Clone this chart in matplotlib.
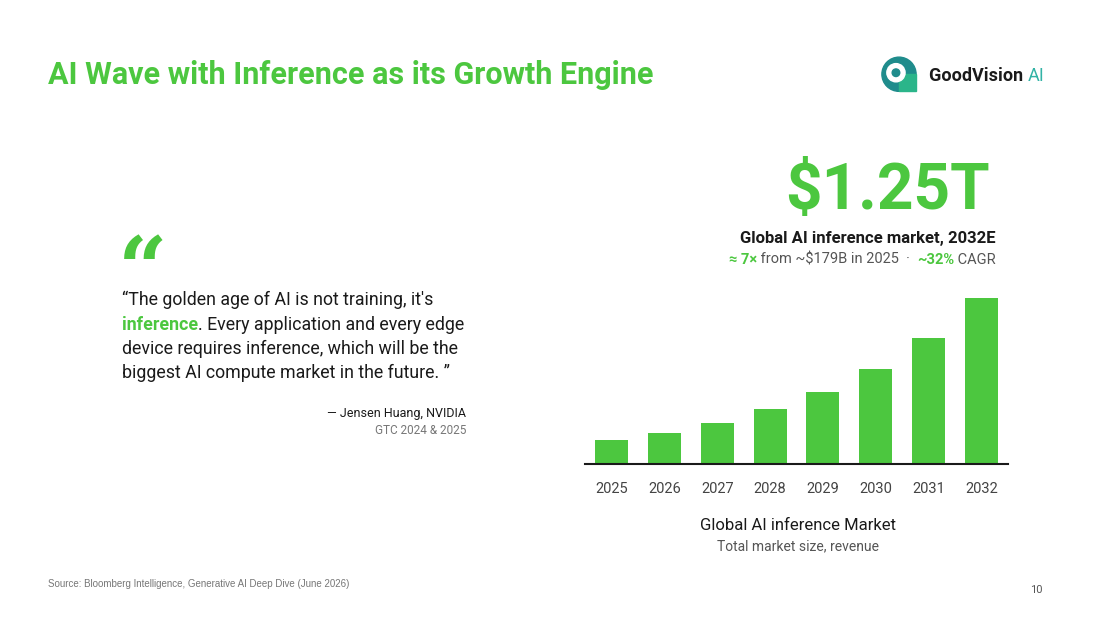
import matplotlib
matplotlib.use("Agg")
import matplotlib.pyplot as plt
from matplotlib.patches import Circle, Rectangle

# data
years = ["2025", "2026", "2027", "2028", "2029", "2030", "2031", "2032"]
market_bn = [179, 233, 308, 414, 541, 717, 947, 1250]

GREEN = "#4cc73f"
DARK = "#1a1a1a"
GRAY = "#555555"
LIGHT = "#777777"

plt.rcParams['font.family'] = ['Roboto', 'DejaVu Sans']

fig = plt.figure(figsize=(11, 6.19), dpi=100)
W, H = 1100, 619


def fx(px):
    return px / W


def fy(py):
    return 1 - py / H


def pieces(x, y, parts, ha='left', **kw):
    '''draw a line of text made of (string, color, weight) parts'''
    r = fig.canvas.get_renderer()
    objs = []
    total = 0
    for s, c, wgt in parts:
        t = fig.text(0, fy(y), s, color=c, fontweight=wgt, va='center', **kw)
        w = t.get_window_extent(renderer=r).width
        objs.append((t, w))
        total += w
    start = x - total if ha == 'right' else x
    for t, w in objs:
        t.set_x(fx(start))
        start += w


# title
fig.text(fx(48), fy(75), "AI Wave with Inference as its Growth Engine",
         fontsize=22, fontweight='bold', color=GREEN, va='center', ha='left')

# logo
lax = fig.add_axes([fx(880), fy(94), fx(38), 38 / H])
lax.set_xlim(0, 1)
lax.set_ylim(0, 1)
lax.set_aspect('equal')
lax.axis('off')
lax.add_patch(Circle((0.5, 0.52), 0.45, color="#1f8c8c"))
lax.add_patch(Rectangle((0.5, 0.07), 0.45, 0.45, color="#2bb58a"))
lax.add_patch(Circle((0.42, 0.56), 0.24, color="white"))
lax.add_patch(Circle((0.42, 0.56), 0.1, color="#1f8c8c"))
pieces(929, 76, [("GoodVision ", DARK, 'bold'), ("AI", "#33b3a6", 'normal')],
       fontsize=13)

# big number and subtitle
fig.text(fx(887), fy(191), "$1.25T", fontsize=46, fontweight='bold',
         color=GREEN, ha='center', va='center')
fig.text(fx(996), fy(239), "Global AI inference market, 2032E", fontsize=12,
         fontweight='bold', color=DARK, ha='right', va='center')
pieces(996, 260, [("≈ 7×", GREEN, 'bold'), (" from ~$179B in 2025  ·  ", GRAY, 'normal'),
                  ("~32%", GREEN, 'bold'), (" CAGR", GRAY, 'normal')],
       ha='right', fontsize=10.5)

# quote
fig.text(fx(118), fy(274), "\u201c", fontsize=62, fontweight='bold',
         color=GREEN, ha='left', va='center', family=['DejaVu Serif'])
qs = 12.8
pieces(122, 300, [("\u201cThe golden age of AI is not training, it's", DARK, 'normal')], fontsize=qs)
pieces(122, 325, [("inference", GREEN, 'bold'),
                  (". Every application and every edge", DARK, 'normal')], fontsize=qs)
pieces(122, 349, [("device requires inference, which will be the", DARK, 'normal')], fontsize=qs)
pieces(122, 373, [("biggest AI compute market in the future. \u201d", DARK, 'normal')], fontsize=qs)
fig.text(fx(466), fy(414), "\u2014 Jensen Huang, NVIDIA", fontsize=9, color=DARK,
         ha='right', va='center')
fig.text(fx(466), fy(430), "GTC 2024 & 2025", fontsize=8.5, color=LIGHT,
         ha='right', va='center')

# bar chart
ax = fig.add_axes([fx(585), fy(464), fx(1008 - 585), (464 - 297.7) / H])
ax.bar(range(len(years)), market_bn, width=0.625, color=GREEN)
ax.set_xlim(-0.5, len(years) - 0.5)
ax.set_ylim(0, max(market_bn))
ax.set_xticks(range(len(years)))
ax.set_xticklabels(years, fontsize=10.5, color="#444444")
ax.tick_params(axis='x', length=0, pad=13)
ax.set_yticks([])
for s in ['top', 'right', 'left']:
    ax.spines[s].set_visible(False)
ax.spines['bottom'].set_color(DARK)
ax.spines['bottom'].set_linewidth(1.5)
ax.patch.set_alpha(0)

fig.text(fx(798), fy(525), "Global AI inference Market", fontsize=12, color=DARK,
         ha='center', va='center')
fig.text(fx(798), fy(546), "Total market size, revenue", fontsize=10, color=GRAY,
         ha='center', va='center')

# footer
fig.text(fx(48), fy(584), "Source: Bloomberg Intelligence, Generative AI Deep Dive (June 2026)",
         fontsize=7, color=LIGHT, family=['Liberation Sans', 'DejaVu Sans'],
         ha='left', va='center')
fig.text(fx(1043), fy(590), "10", fontsize=8, color=GRAY, ha='right', va='center')

fig.savefig("out.png", dpi=100, facecolor='white')
